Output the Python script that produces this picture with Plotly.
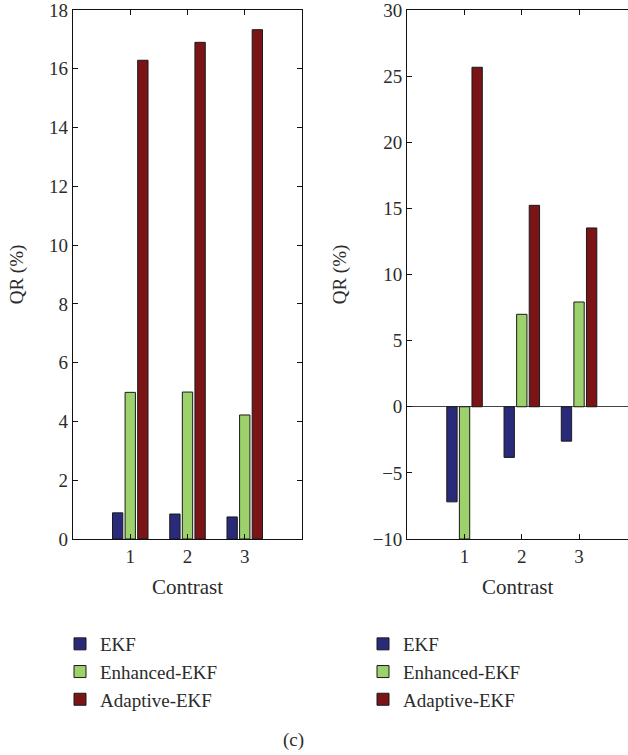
import plotly.graph_objects as go

categories = [1, 2, 3]
series_names = ["EKF", "Enhanced-EKF", "Adaptive-EKF"]
colors = ["#2a2a7a", "#9dd16c", "#7a1416"]

left_values = {
    "EKF": [0.89, 0.85, 0.75],
    "Enhanced-EKF": [4.99, 5.0, 4.22],
    "Adaptive-EKF": [16.29, 16.9, 17.33],
}
right_values = {
    "EKF": [-7.19, -3.83, -2.6],
    "Enhanced-EKF": [-10.0, 6.99, 7.92],
    "Adaptive-EKF": [25.67, 15.23, 13.52],
}

left_yticks = list(range(0, 19, 2))
right_yticks = list(range(-10, 31, 5))

FONT = "Liberation Serif"
TXT = "#2b2b2b"

fig = go.Figure()
for name, col in zip(series_names, colors):
    fig.add_trace(go.Bar(x=categories, y=left_values[name], name=name,
                         marker=dict(color=col, line=dict(color="#1a1a1a", width=1)),
                         xaxis="x", yaxis="y", legend="legend"))
for name, col in zip(series_names, colors):
    fig.add_trace(go.Bar(x=categories, y=right_values[name], name=name,
                         marker=dict(color=col, line=dict(color="#1a1a1a", width=1)),
                         xaxis="x2", yaxis="y2", legend="legend2"))

ML, MT, MB = 73, 10, 216
PW = 628 - ML
PH = 755 - MT - MB

axis_common = dict(showline=True, linecolor="#111", linewidth=1.3, ticks="inside",
                   ticklen=5, tickcolor="#111", showgrid=False, ticklabeloverflow="allow",
                   tickfont=dict(family=FONT, size=19, color=TXT))

fig.update_layout(
    width=628, height=755,
    margin=dict(l=ML, r=0, t=MT, b=MB),
    paper_bgcolor="white", plot_bgcolor="white",
    barmode="group", bargap=0.34, bargroupgap=0.18,
    font=dict(family=FONT, size=19, color=TXT),
    xaxis=dict(domain=[0, 229 / PW], range=[0, 4], tickvals=categories, mirror="ticks",
               zeroline=False,
               title=dict(text="Contrast", font=dict(family=FONT, size=21, color=TXT), standoff=13),
               **axis_common),
    yaxis=dict(range=[0, 18], tickvals=left_yticks, mirror="ticks", zeroline=False,
               title=dict(text="QR (%)", font=dict(family=FONT, size=19, color=TXT), standoff=20),
               **axis_common),
    xaxis2=dict(domain=[(407.3 - ML) / PW, 1], range=[0, (628 - 407.3) / 57.25],
                tickvals=categories, mirror="ticks", zeroline=False, anchor="y2",
                title=dict(text="Contrast", font=dict(family=FONT, size=21, color=TXT), standoff=13),
                **axis_common),
    yaxis2=dict(range=[-10, 30], tickvals=right_yticks, mirror=False, anchor="x2",
                zeroline=True, zerolinecolor="#444", zerolinewidth=1,
                title=dict(text="QR (%)", font=dict(family=FONT, size=19, color=TXT), standoff=20),
                **axis_common),
    legend=dict(x=(60 - ML) / PW, y=(MT + PH - 625) / PH, xanchor="left", yanchor="top",
                bgcolor="rgba(0,0,0,0)", font=dict(family=FONT, size=19, color=TXT),
                traceorder="normal"),
    legend2=dict(x=(363 - ML) / PW, y=(MT + PH - 625) / PH, xanchor="left", yanchor="top",
                 bgcolor="rgba(0,0,0,0)", font=dict(family=FONT, size=19, color=TXT),
                 traceorder="normal"),
    annotations=[dict(text="(c)", x=(293 - ML) / PW, y=(MT + PH - 740) / PH,
                      xref="paper", yref="paper", showarrow=False,
                      xanchor="center", yanchor="middle",
                      font=dict(family=FONT, size=19, color=TXT))],
)

fig.write_html("out.html")
